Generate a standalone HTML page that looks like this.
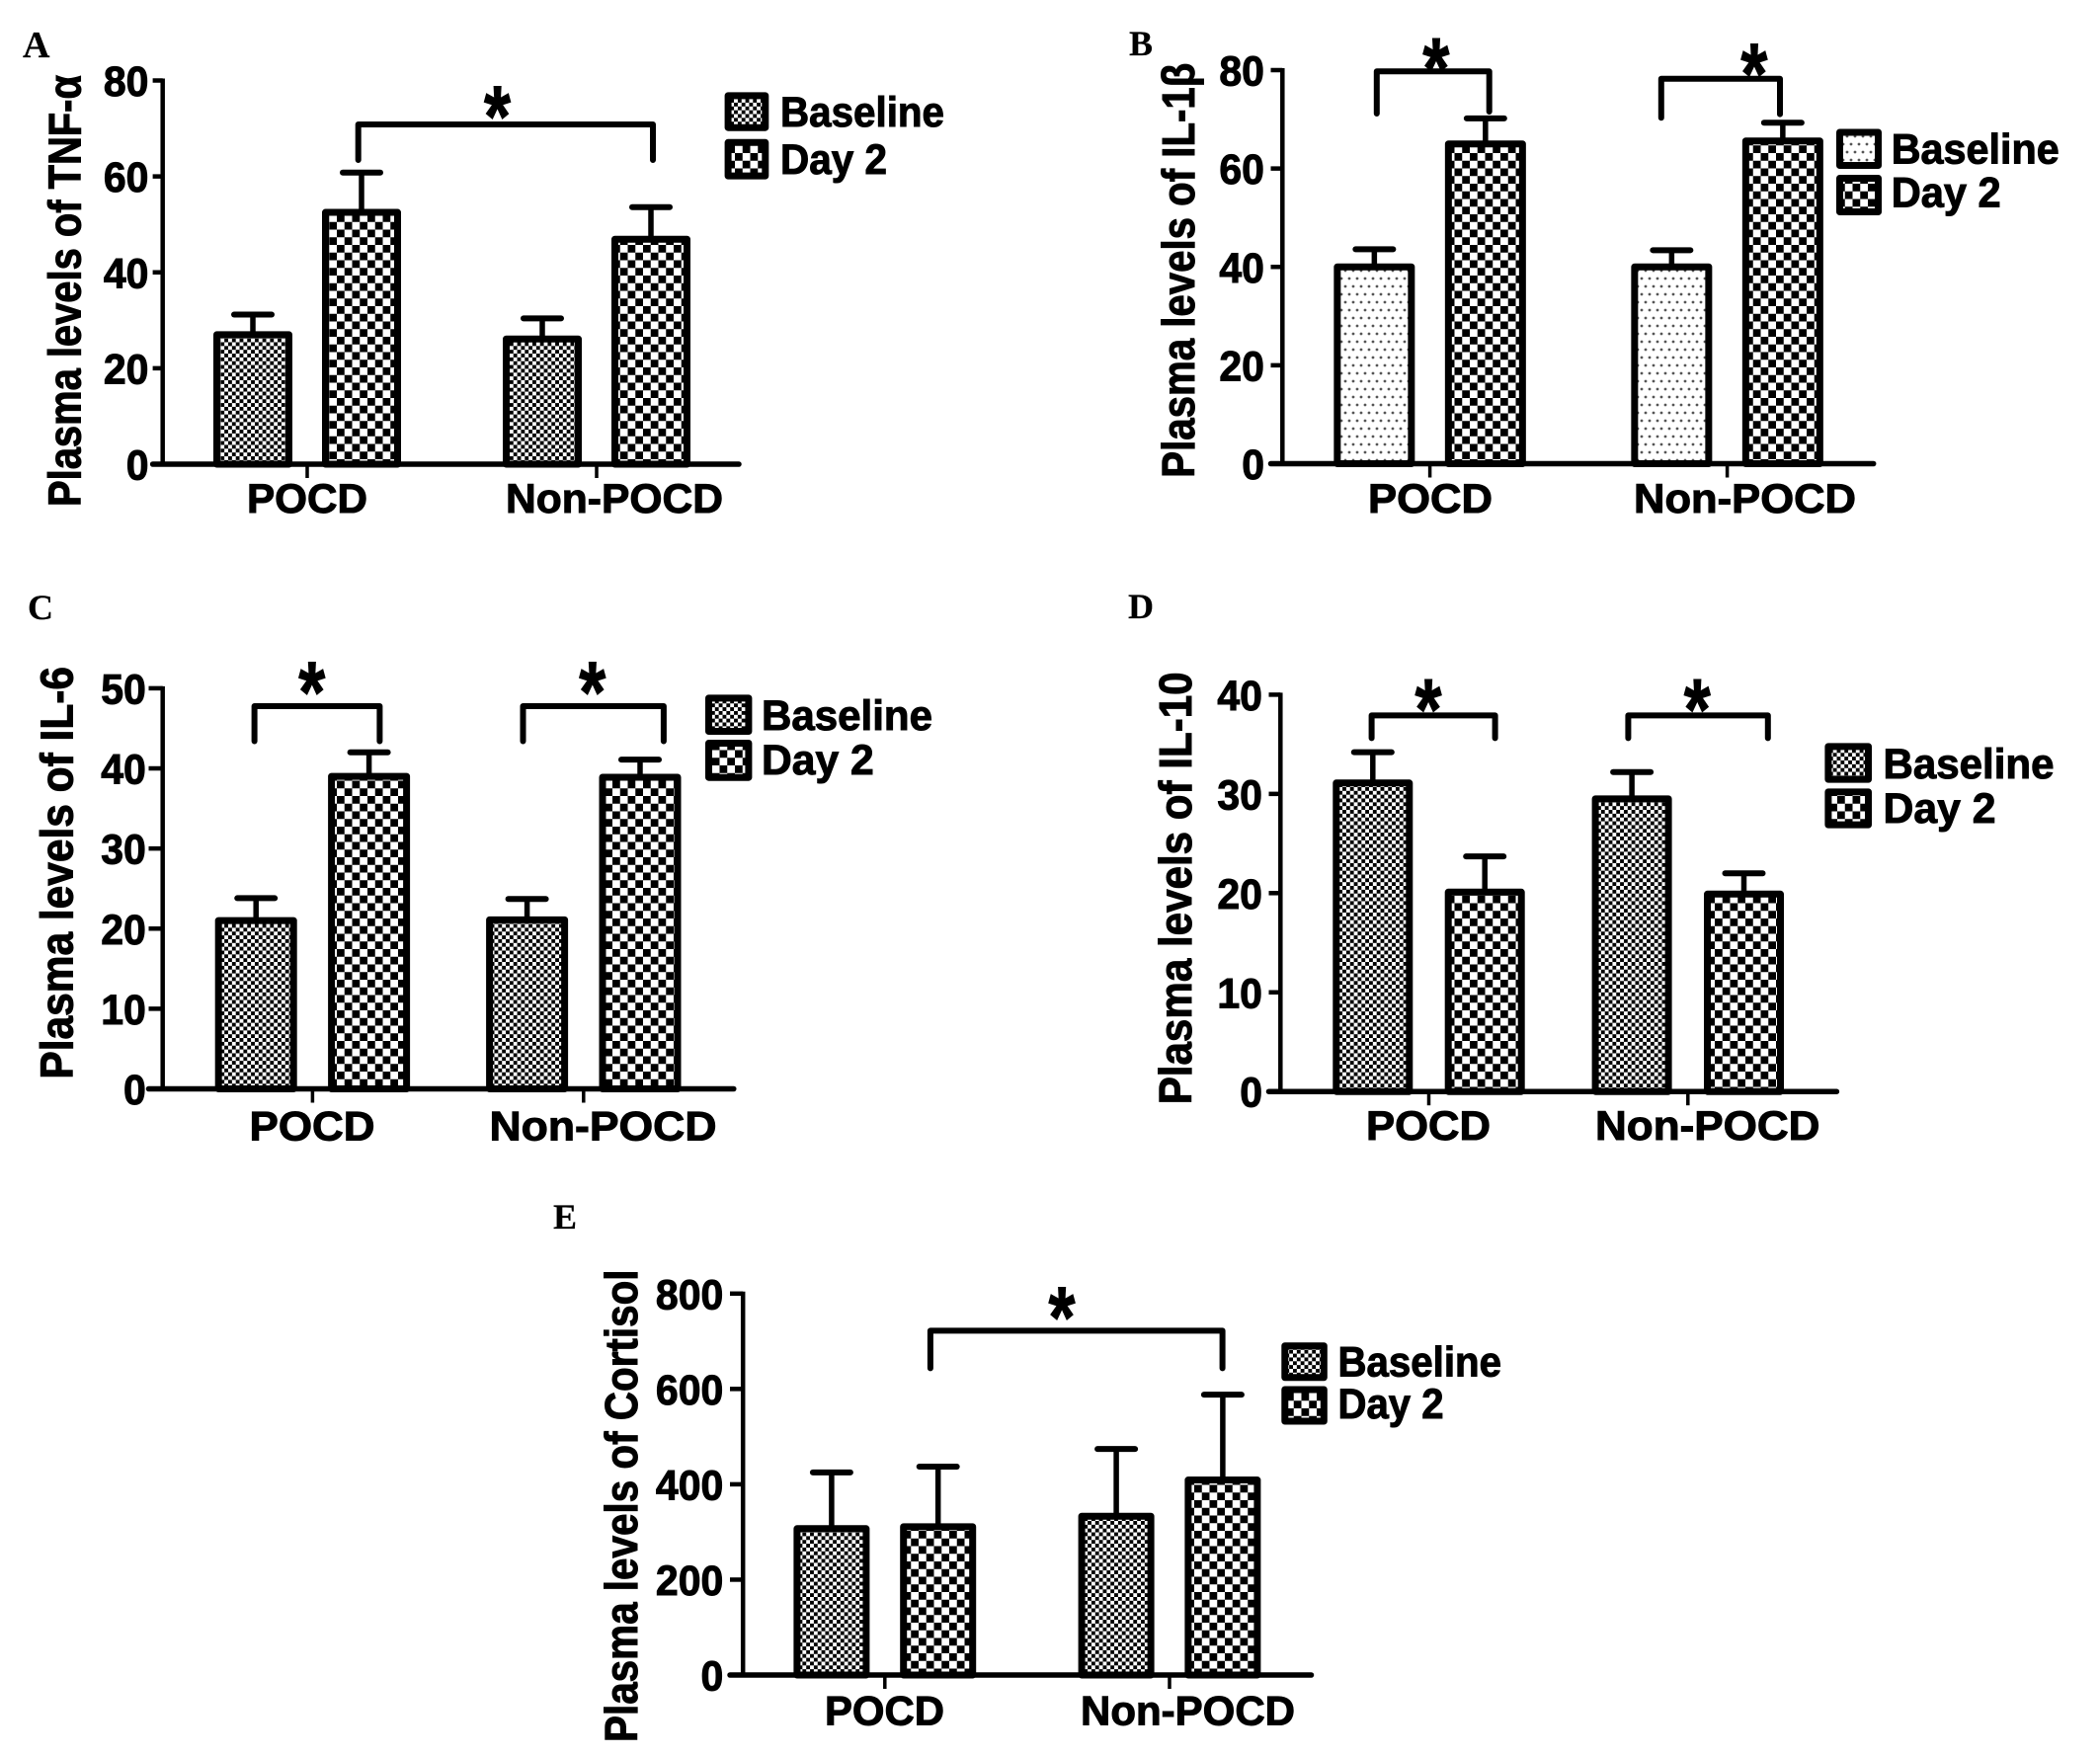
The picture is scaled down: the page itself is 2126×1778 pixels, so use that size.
<!DOCTYPE html>
<html lang="en">
<head>
<meta charset="utf-8">
<title>Plasma cytokine levels at baseline and day 2</title>
<style>
html,body{margin:0;padding:0;background:#fff;}
svg{display:block;}
text{font-family:"Liberation Sans",sans-serif;font-weight:bold;fill:#000;stroke:#000;stroke-width:1px;}
.letter{font-family:"Liberation Serif",serif;stroke-width:.2px;}
</style>
</head>
<body>
<svg id="figure" xmlns="http://www.w3.org/2000/svg" width="2126" height="1778" viewBox="0 0 2126 1778">
  <defs>
    <pattern id="fine-check" patternUnits="userSpaceOnUse" width="7.7" height="7.7">
      <rect width="7.7" height="7.7" fill="#fff"/>
      <rect width="3.85" height="3.85" fill="#000"/>
      <rect x="3.85" y="3.85" width="3.85" height="3.85" fill="#000"/>
    </pattern>
    <pattern id="coarse-check" patternUnits="userSpaceOnUse" width="15.5" height="15.5">
      <rect width="15.5" height="15.5" fill="#fff"/>
      <rect width="7.75" height="7.75" fill="#000"/>
      <rect x="7.75" y="7.75" width="7.75" height="7.75" fill="#000"/>
    </pattern>
    <pattern id="dots" patternUnits="userSpaceOnUse" width="8" height="16">
      <rect width="8" height="16" fill="#fff"/>
      <circle cx="2" cy="2" r="1.4" fill="#555"/>
      <circle cx="6" cy="10" r="1.4" fill="#555"/>
    </pattern>
  </defs>
  <rect width="2126" height="1778" fill="#fff"/>
  <text class="letter" x="23" y="58" font-size="38">A</text>
  <text class="letter" x="1143" y="56" font-size="36">B</text>
  <text class="letter" x="28" y="627" font-size="36">C</text>
  <text class="letter" x="1142" y="626" font-size="36">D</text>
  <text class="letter" x="560" y="1244" font-size="36">E</text>
</svg>
<script>
const categories = ['POCD', 'Non-POCD'];
const seriesNames = ['Baseline', 'Day 2'];

const tnfTicks = [0, 20, 40, 60, 80];
const tnfBaseline = [27.0, 26.1];
const tnfDay2 = [52.5, 46.9];
const tnfBaselineUpper = [31.2, 30.4];
const tnfDay2Upper = [60.8, 53.6];

const il1Ticks = [0, 20, 40, 60, 80];
const il1Baseline = [40.0, 40.0];
const il1Day2 = [65.0, 65.6];
const il1BaselineUpper = [43.6, 43.4];
const il1Day2Upper = [70.2, 69.3];

const il6Ticks = [0, 10, 20, 30, 40, 50];
const il6Baseline = [21.0, 21.1];
const il6Day2 = [39.0, 38.9];
const il6BaselineUpper = [23.8, 23.7];
const il6Day2Upper = [42.0, 41.1];

const il10Ticks = [0, 10, 20, 30, 40];
const il10Baseline = [31.1, 29.5];
const il10Day2 = [20.1, 19.9];
const il10BaselineUpper = [34.2, 32.2];
const il10Day2Upper = [23.7, 22.0];

const cortisolTicks = [0, 200, 400, 600, 800];
const cortisolBaseline = [307, 333];
const cortisolDay2 = [311, 409];
const cortisolBaselineUpper = [425, 474];
const cortisolDay2Upper = [437, 588];

const panels = [
  { id: 'a', title: 'Plasma levels of TNF-\u03b1', ticks: tnfTicks,
    base: tnfBaseline, day2: tnfDay2, baseUp: tnfBaselineUpper, day2Up: tnfDay2Upper, baseFill: 'fine-check',
    layout: { axisX: 164.7, y0: 470, yTop: 81.5, tickLeft: 154.6, axisEnd: 751, labelRight: 150.5,
      cat0: 311, catStep: 293, serStep: 110, barW: 73,
      title: [81.4, 513, 437], catBase: 519, catFit: [[250, 122], [512, 220]],
      swatchX: [733.6, 778.3], swatchY: [[93.4, 132.7], [140.8, 181.6]],
      legX: 790, legBase: [127.9, 176], legW: [166, 108],
      brackets: [[362.7, 661, 126, 162, 162, 503, 104]] } },
  { id: 'b', title: 'Plasma levels of IL-1\u03b2', ticks: il1Ticks,
    base: il1Baseline, day2: il1Day2, baseUp: il1BaselineUpper, day2Up: il1Day2Upper, baseFill: 'dots',
    layout: { axisX: 1298.3, y0: 469.5, yTop: 71, tickLeft: 1286.5, axisEnd: 1899.7, labelRight: 1280,
      cat0: 1447.6, catStep: 301, serStep: 112.5, barW: 75,
      title: [1209, 483.7, 420], catBase: 519, catFit: [[1385, 126], [1654, 225]],
      swatchX: [1859, 1905], swatchY: [[130.5, 171], [177, 218]],
      legX: 1914.7, legBase: [165.7, 209.4], legW: [170, 111],
      brackets: [[1393.8, 1507.7, 72.3, 115, 113, 1453.4, 55.6], [1681.8, 1802, 79.7, 119.3, 115.6, 1775.4, 61]] } },
  { id: 'c', title: 'Plasma levels of IL-6', ticks: il6Ticks,
    base: il6Baseline, day2: il6Day2, baseUp: il6BaselineUpper, day2Up: il6Day2Upper, baseFill: 'fine-check',
    layout: { axisX: 164.7, y0: 1102.5, yTop: 696.9, tickLeft: 150.5, axisEnd: 745.8, labelRight: 147.8,
      cat0: 316.4, catStep: 274.4, serStep: 114.4, barW: 76,
      title: [73.5, 1092.6, 417.6], catBase: 1154.7, catFit: [[252.5, 127], [495.5, 230]],
      swatchX: [714, 761.4], swatchY: [[703.4, 744], [749, 790.7]],
      legX: 771, legBase: [739, 784], legW: [173, 113.7],
      brackets: [[257.6, 384.4, 715, 750.5, 750.5, 315.3, 687], [529.5, 671.9, 715, 750.5, 750.5, 599.3, 687]] } },
  { id: 'd', title: 'Plasma levels of IL-10', ticks: il10Ticks,
    base: il10Baseline, day2: il10Day2, baseUp: il10BaselineUpper, day2Up: il10Day2Upper, baseFill: 'fine-check',
    layout: { axisX: 1296.3, y0: 1105.2, yTop: 703.4, tickLeft: 1284.5, axisEnd: 1862.4, labelRight: 1278,
      cat0: 1446.5, catStep: 262.3, serStep: 113.4, barW: 74,
      title: [1206, 1118.3, 437.9], catBase: 1154, catFit: [[1383, 126], [1615, 227.5]],
      swatchX: [1847.4, 1895], swatchY: [[752.4, 792.6], [798.4, 838.6]],
      legX: 1906.5, legBase: [788, 832.9], legW: [173, 114],
      brackets: [[1388.6, 1513.6, 724.4, 747.4, 747.4, 1445.5, 704.5], [1648.4, 1789.8, 724.4, 747.4, 747.4, 1717.8, 704.5]] } },
  { id: 'e', title: 'Plasma levels of Cortisol', ticks: cortisolTicks,
    base: cortisolBaseline, day2: cortisolDay2, baseUp: cortisolBaselineUpper, day2Up: cortisolDay2Upper, baseFill: 'fine-check',
    layout: { axisX: 752.2, y0: 1696, yTop: 1309.8, tickLeft: 739, axisEnd: 1330.5, labelRight: 732.3,
      cat0: 895.8, catStep: 288.2, serStep: 107.8, barW: 70,
      title: [645, 1764, 478.5], catBase: 1746.6, catFit: [[835, 121], [1094, 217]],
      swatchX: [1297.3, 1343.8], swatchY: [[1359.2, 1398.3], [1403.5, 1442.5]],
      legX: 1354.5, legBase: [1393.5, 1436], legW: [165.5, 107],
      brackets: [[941.9, 1237.6, 1347.4, 1385.4, 1385.4, 1074.5, 1319.8]] } }
];

const svgNS = 'http://www.w3.org/2000/svg';
const figure = document.getElementById('figure');

function make(tag, parent, attrs) {
  const node = document.createElementNS(svgNS, tag);
  Object.keys(attrs).forEach(function (k) { node.setAttribute(k, attrs[k]); });
  parent.appendChild(node);
  return node;
}

function drawPanel(p) {
  const L = p.layout;
  const maxTick = Math.max.apply(null, p.ticks);
  const yScale = function (v) { return L.y0 - v * (L.y0 - L.yTop) / maxTick; };
  const catCenter = function (c) { return L.cat0 + c * L.catStep; };
  const xScale = function (c, s) { return catCenter(c) + (s - 0.5) * L.serStep; };

  const group = make('g', figure, {});
  
  

  const titleEl = make('text', group, {
    transform: 'translate(' + L.title[0] + ' ' + L.title[1] + ') rotate(-90)',
    'font-size': 46, textLength: L.title[2], lengthAdjust: 'spacingAndGlyphs'
  });
  titleEl.textContent = p.title;
  
  

  const seriesValues = [p.base, p.day2];
  const seriesUpper = [p.baseUp, p.day2Up];
  const seriesFill = [p.baseFill, 'coarse-check'];

  seriesValues.forEach(function (values, s) {
    values.forEach(function (v, c) {
      const cx = xScale(c, s);
      const top = yScale(v);
      const capY = yScale(seriesUpper[s][c]);
      const stem = make('line', group, { x1: cx, x2: cx, y1: top, y2: capY, stroke: '#000', 'stroke-width': 5.5 });
      
      
      const cap = make('line', group, { x1: cx - 19, x2: cx + 19, y1: capY, y2: capY, stroke: '#000', 'stroke-width': 6, 'stroke-linecap': 'round' });
      
      
      const bar = make('rect', group, {
        x: cx - L.barW / 2, y: top, width: L.barW, height: L.y0 - top,
        fill: 'url(#' + seriesFill[s] + ')', stroke: '#000', 'stroke-width': 7, 'stroke-linejoin': 'round'
      });
      
      
    });
  });

  const yAxis = make('line', group, { x1: L.axisX, x2: L.axisX, y1: L.y0, y2: L.yTop - 2, stroke: '#000', 'stroke-width': 4.5 });
  
  
  const xAxis = make('line', group, { x1: L.tickLeft, x2: L.axisEnd - 3, y1: L.y0, y2: L.y0, stroke: '#000', 'stroke-width': 5.5, 'stroke-linecap': 'round' });
  
  

  p.ticks.forEach(function (t) {
    const y = yScale(t);
    const tick = make('line', group, { x1: L.tickLeft, x2: L.axisX, y1: y, y2: y, stroke: '#000', 'stroke-width': 4.5 });
    
    
    const text = String(t);
    const label = make('text', group, {
      x: L.labelRight, y: y + 15.5, 'font-size': 43, 'text-anchor': 'end',
      textLength: text.length * 22.8, lengthAdjust: 'spacingAndGlyphs'
    });
    label.textContent = text;
    
    
  });

  categories.forEach(function (name, c) {
    const cx = catCenter(c);
    const tick = make('line', group, { x1: cx, x2: cx, y1: L.y0, y2: L.y0 + 14, stroke: '#000', 'stroke-width': 3.5 });
    
    
    const label = make('text', group, {
      x: L.catFit[c][0], y: L.catBase, 'font-size': 42,
      textLength: L.catFit[c][1], lengthAdjust: 'spacingAndGlyphs'
    });
    label.textContent = name;
    
    
  });

  L.brackets.forEach(function (b) {
    const path = make('path', group, {
      d: 'M' + b[0] + ' ' + b[3] + 'V' + b[2] + 'H' + b[1] + 'V' + b[4],
      fill: 'none', stroke: '#000', 'stroke-width': 6, 'stroke-linecap': 'round', 'stroke-linejoin': 'round'
    });
    
    
    const star = make('text', group, {
      x: b[5] - 13, y: b[6] + 44, 'font-size': 88,
      textLength: 27, lengthAdjust: 'spacingAndGlyphs'
    });
    star.textContent = '*';
    
    
  });

  seriesNames.forEach(function (name, s) {
    const sw = make('rect', group, {
      x: L.swatchX[0] + 3.5, y: L.swatchY[s][0] + 3.5,
      width: L.swatchX[1] - L.swatchX[0] - 7, height: L.swatchY[s][1] - L.swatchY[s][0] - 7,
      fill: 'url(#' + seriesFill[s] + ')', stroke: '#000', 'stroke-width': 7, 'stroke-linejoin': 'round'
    });
    
    
    const label = make('text', group, {
      x: L.legX, y: L.legBase[s], 'font-size': 43,
      textLength: L.legW[s], lengthAdjust: 'spacingAndGlyphs'
    });
    label.textContent = name;
    
    
  });
}

panels.forEach(drawPanel);
</script>
</body>
</html>
